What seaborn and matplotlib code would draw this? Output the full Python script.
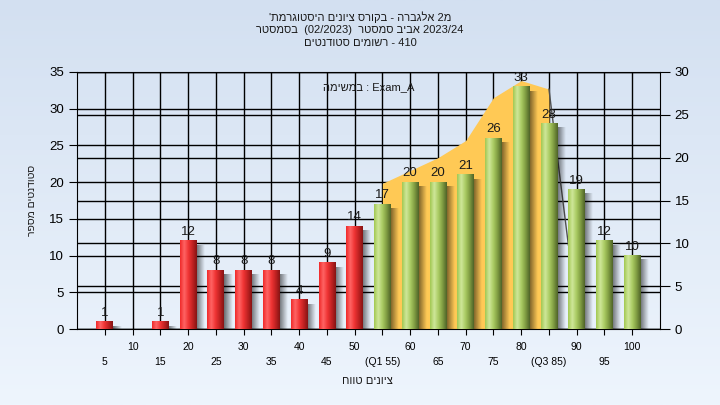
import re
import numpy as np
import pandas as pd
import seaborn as sns
import matplotlib.pyplot as plt
from matplotlib.colors import LinearSegmentedColormap

# נתונים מהגרף
scores = [5, 10, 15, 20, 25, 30, 35, 40, 45, 50, 55, 60, 65, 70, 75, 80, 85, 90, 95, 100]
students = [1, 0, 1, 12, 8, 8, 8, 4, 9, 14, 17, 20, 20, 21, 26, 33, 28, 19, 12, 10]
tick_labels = ['5', '10', '15', '20', '25', '30', '35', '40', '45', '50', '(Q1 55)',
               '60', '65', '70', '75', '80', '(Q3 85)', '90', '95', '100']
pass_score = 55

# שטח כתום (ציר ימני) בין Q1 ל-Q3
band_scores = [55, 60, 65, 70, 75, 80, 85]
band_values = [17, 18.5, 20, 22, 27, 29, 28]
drop_scores = [85, 88.5]
drop_values = [28, 9.8]

title_lines = ["'היסטוגרמת ציונים בקורס - אלגברה 2מ",
               "בסמסטר  (02/2023)  סמסטר אביב 2023/24",
               "סטודנטים רשומים - 410"]
task_text = "במשימה : Exam_A"
x_title = "טווח ציונים"
y_title = "מספר סטודנטים"


def heb(s):
    # matplotlib has no bidi: flip each hebrew word, keep word order as drawn
    return re.sub(r'[\u0590-\u05FF]+', lambda m: m.group(0)[::-1], s)


plt.rcParams['font.family'] = ['Liberation Sans', 'DejaVu Sans']

df = pd.DataFrame({'score': [str(s) for s in scores], 'students': students})
df['grp'] = ['fail' if s < pass_score else 'pass' for s in scores]

fig = plt.figure(figsize=(7.2, 4.05), dpi=100)

# רקע כחול בהיר בהדרגה
bg = fig.add_axes([0, 0, 1, 1], zorder=-10)
bg.imshow(np.linspace(0, 1, 256)[:, None], aspect='auto', extent=[0, 1, 0, 1],
          cmap=LinearSegmentedColormap.from_list('bg', ['#d3e0f1', '#eef5fd']))
bg.axis('off')

rect = [77 / 720, 76 / 405, 583 / 720, 257 / 405]
ax = fig.add_axes(rect)
ax2 = ax.twinx()
ax.set_zorder(2)
ax2.set_zorder(1)
ax.patch.set_visible(False)
ax2.patch.set_facecolor('#b4b4b4')

sns.barplot(data=df, x='score', y='students', hue='grp', order=df['score'],
            palette={'fail': '#e02828', 'pass': '#a8c860'}, dodge=False,
            width=0.6, errorbar=None, legend=False, ax=ax, zorder=3)

ax.set_ylim(0, 35)
ax2.set_ylim(0, 30)
ax.set_yticks(range(0, 36, 5))
ax2.set_yticks(range(0, 31, 5))

ax.grid(True, color='black', lw=1)
ax.set_axisbelow(True)
ax2.grid(True, axis='y', color='black', lw=1)
ax2.grid(False, axis='x')

# שטח Q1-Q3 לפי הציר הימני
pos = np.arange(len(scores))
band_pos = np.interp(band_scores, scores, pos)
ax.fill_between(band_pos, band_values, 0, transform=ax2.transData,
                color='#ffc955', lw=0, zorder=1)
ax.plot(np.interp(drop_scores, scores, pos), drop_values, transform=ax2.transData,
        color='#505050', lw=1, zorder=2)

# עמודות תלת-ממדיות: צל + הדרגה
red_cmap = LinearSegmentedColormap.from_list(
    'r', ['#f02a2a', '#ff6464', '#f03434', '#c02222', '#861414'])
green_cmap = LinearSegmentedColormap.from_list(
    'g', ['#a2c852', '#cfe79a', '#aacb62', '#7f9c42', '#4f6328'])
grad = np.linspace(0, 1, 64)[None, :]
shadow = np.zeros((1, 32, 4))
shadow[0, :, 3] = np.linspace(0.55, 0.0, 32)

for bar, val, s in zip(ax.patches, students, scores):
    if val == 0:
        bar.set_visible(False)
        continue
    x0, w, h = bar.get_x(), bar.get_width(), bar.get_height()
    bar.set_edgecolor('none')
    ax.imshow(shadow, extent=[x0 + w - 0.02, x0 + w + 0.3, 0, h - 0.6],
              aspect='auto', interpolation='bilinear', zorder=2.5)
    ax.imshow(grad, extent=[x0, x0 + w, 0, h], aspect='auto', interpolation='bilinear',
              cmap=red_cmap if s < pass_score else green_cmap, zorder=3.1)
    ax.annotate(f'{val}', (x0 + w / 2, h), xytext=(0, 2), textcoords='offset points',
                ha='center', va='bottom', fontsize=9.5, color='#1a1a1a', zorder=5)

ax.set_xlim(-1, len(scores))
ax.set_ylim(0, 35)

ax.set_xticks(pos)
ax.set_xticklabels([('\n' + t) if i % 2 == 0 else t for i, t in enumerate(tick_labels)],
                   fontsize=7.5, linespacing=1.7)
ax.set_xlabel('')
ax.set_ylabel('')
ax2.set_ylabel('')
ax.tick_params(axis='x', length=4, pad=5, colors='black')
ax.tick_params(axis='y', length=6, labelsize=9.5, colors='black')
ax2.tick_params(axis='y', length=7, labelsize=9.5, colors='black')

for sp in ['left', 'bottom', 'top']:
    ax.spines[sp].set_color('black')
    ax2.spines[sp].set_visible(False)
ax.spines['right'].set_visible(False)
ax2.spines['right'].set_color('black')

ax.text(0.5, 0.942, heb(task_text), transform=ax.transAxes, ha='center', va='center',
        fontsize=8, color='#1a1a1a', zorder=6)

for i, line in enumerate(title_lines):
    fig.text(0.5, 1 - (17 + 13 * i) / 405, heb(line), ha='center', va='center',
             fontsize=8, color='#1a1a1a')
fig.text(367 / 720, 1 - 381 / 405, heb(x_title), ha='center', va='center', fontsize=8,
         color='#1a1a1a')
fig.text(32 / 720, 1 - 200 / 405, heb(y_title), ha='center', va='center', fontsize=7.5,
         rotation=90, color='#1a1a1a')

fig.savefig('out.png', dpi=100)
